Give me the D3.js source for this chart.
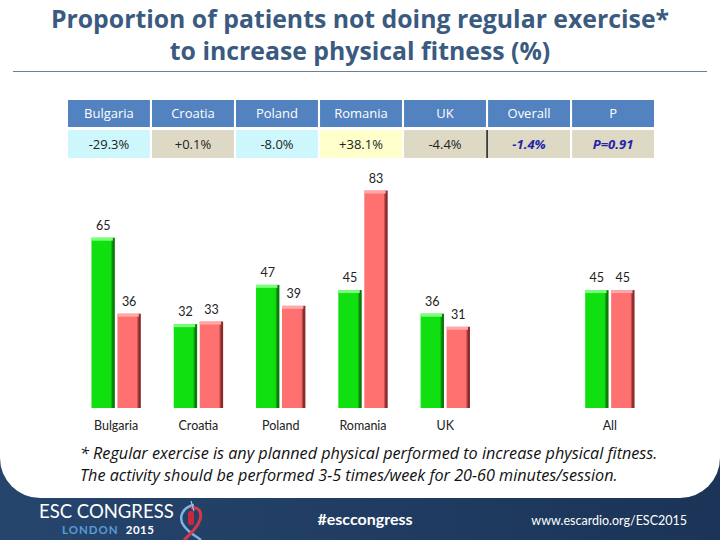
<!DOCTYPE html>
<html><head><meta charset="utf-8">
<script src="https://cdn.jsdelivr.net/npm/d3@7"></script>
<style>
html,body{margin:0;padding:0;background:#fff;}
svg{display:block;}
</style></head>
<body>
<script>
// ---- data ----
const categories = ["Bulgaria", "Croatia", "Poland", "Romania", "UK", "", "All"];
const greenValues = [65, 32, 47, 45, 36, null, 45];
const redValues   = [36, 33, 39, 83, 31, null, 45];
const tableHeaders = ["Bulgaria", "Croatia", "Poland", "Romania", "UK", "Overall", "P"];
const tableValues  = ["-29.3%", "+0.1%", "-8.0%", "+38.1%", "-4.4%", "-1.4%", "P=0.91"];
const tableFills   = ["#cdf7fc", "#ddd9c5", "#cdf7fc", "#ffffcc", "#ddd9c5", "#ddd9c5", "#ddd9c5"];
const titleLines = ["Proportion of patients not doing regular exercise*", "to increase physical fitness (%)"];
const footnoteLines = ["* Regular exercise is any planned physical performed to increase physical fitness.",
                       "The activity should be performed 3-5 times/week for 20-60 minutes/session."];

const W = 720, H = 540;
const font = "Lato, 'Open Sans', sans-serif";
const font2 = "'Open Sans', sans-serif";
const svg = d3.select("body").append("svg").attr("width", W).attr("height", H);
const defs = svg.append("defs");

// ---- background / footer ----
const navy = defs.append("linearGradient").attr("id","navy").attr("x1",0).attr("x2",1).attr("y1",0).attr("y2",0);
navy.append("stop").attr("offset","0%").attr("stop-color","#26456d");
navy.append("stop").attr("offset","100%").attr("stop-color","#1b3458");
svg.append("rect").attr("x",0).attr("y",0).attr("width",W).attr("height",H).attr("fill","url(#navy)");
svg.append("rect").attr("x",0).attr("y",-60).attr("width",W).attr("height",558).attr("rx",40).attr("fill","#fff");
svg.append("rect").attr("x",0).attr("y",0).attr("width",W).attr("height",440).attr("fill","#fff");

// ---- title ----
svg.append("g").selectAll("text").data(titleLines).join("text")
  .attr("x", 360).attr("y", (d,i)=> 28 + i*32)
  .attr("text-anchor","middle")
  .attr("font-family", font2).attr("font-weight","bold").attr("font-size", 24.8)
  .attr("fill","#3a5a80").text(d=>d);
svg.append("line").attr("x1",13).attr("x2",707).attr("y1",71.5).attr("y2",71.5)
  .attr("stroke","#6a7f9a").attr("stroke-width",1.2);

// ---- table ----
const tx = d3.scaleBand().domain(tableHeaders).range([68, 654]).paddingInner(0.025);
const tg = svg.append("g");
tg.selectAll("rect.h").data(tableHeaders).join("rect").attr("class","h")
  .attr("x", d=>tx(d)).attr("y",100).attr("width",tx.bandwidth()).attr("height",27).attr("fill","#5282bf");
tg.selectAll("text.h").data(tableHeaders).join("text").attr("class","h")
  .attr("x", d=>tx(d)+tx.bandwidth()/2).attr("y",118).attr("text-anchor","middle")
  .attr("font-family",font2).attr("font-size",13).attr("fill","#fff").text(d=>d);
tg.selectAll("rect.v").data(tableValues).join("rect").attr("class","v")
  .attr("x", (d,i)=>tx(tableHeaders[i])).attr("y",130).attr("width",tx.bandwidth()).attr("height",28)
  .attr("fill",(d,i)=>tableFills[i]);
tg.selectAll("text.v").data(tableValues).join("text").attr("class","v")
  .attr("x", (d,i)=>tx(tableHeaders[i])+tx.bandwidth()/2).attr("y",148.5).attr("text-anchor","middle")
  .attr("font-family",font2).attr("font-size",13)
  .attr("font-weight",(d,i)=> i>=5 ? "bold" : "normal")
  .attr("font-style",(d,i)=> i>=5 ? "italic" : "normal")
  .attr("fill",(d,i)=> i>=5 ? "#2424a8" : "#222").text(d=>d);
tg.append("line").attr("x1", tx("Overall")-1).attr("x2", tx("Overall")-1).attr("y1",130).attr("y2",158)
  .attr("stroke","#111").attr("stroke-width",1.5);

// ---- bar chart ----
const x = d3.scaleBand().domain(categories).range([75, 651]).paddingInner(0.4).paddingOuter(0.2);
const xs = d3.scaleBand().domain([0,1]).range([0, x.bandwidth()]).paddingInner(0.1);
const y = d3.scaleLinear().domain([0, 100]).range([408, 146]);

function grad(id, mid, dark) {
  const g = defs.append("linearGradient").attr("id", id).attr("x1",0).attr("x2",1).attr("y1",0).attr("y2",0);
  g.append("stop").attr("offset","0%").attr("stop-color",mid);
  g.append("stop").attr("offset","82%").attr("stop-color",mid);
  g.append("stop").attr("offset","92%").attr("stop-color",dark);
  g.append("stop").attr("offset","100%").attr("stop-color",dark);
}
grad("gG", "#10e010", "#0a7a0a");
grad("gR", "#ff7070", "#8a2a2a");

const series = [
  {values: greenValues, fill: "url(#gG)", top: "#7cff7c"},
  {values: redValues,   fill: "url(#gR)", top: "#ffa8a8"}
];
const bars = svg.append("g");
series.forEach((s, si) => {
  const pts = categories.map((c,i)=>({c, v: s.values[i]})).filter(d=>d.v!=null);
  const g = bars.append("g");
  g.selectAll("rect.b").data(pts).join("rect").attr("class","b")
    .attr("x", d=>x(d.c)+xs(si)).attr("y", d=>y(d.v))
    .attr("width", xs.bandwidth()).attr("height", d=>y(0)-y(d.v)).attr("fill", s.fill);
  g.selectAll("rect.t").data(pts).join("rect").attr("class","t")
    .attr("x", d=>x(d.c)+xs(si)).attr("y", d=>y(d.v))
    .attr("width", xs.bandwidth()-2).attr("height", 3).attr("fill", s.top);
  g.selectAll("text").data(pts).join("text")
    .attr("x", d=>x(d.c)+xs(si)+xs.bandwidth()/2).attr("y", d=>y(d.v)-8)
    .attr("text-anchor","middle").attr("font-family",font).attr("font-size",12.5).attr("fill","#222")
    .text(d=>d.v);
});
svg.append("g").selectAll("text").data(categories.filter(c=>c)).join("text")
  .attr("x", d=>x(d)+x.bandwidth()/2).attr("y", 430).attr("text-anchor","middle")
  .attr("font-family",font).attr("font-size",12.5).attr("fill","#222").text(d=>d);

// ---- footnote ----
svg.append("g").selectAll("text").data(footnoteLines).join("text")
  .attr("x", 80).attr("y", (d,i)=>459 + i*22)
  .attr("font-family",font2).attr("font-style","italic").attr("font-size",16.2).attr("fill","#111").text(d=>d);

// ---- footer ----
const f = svg.append("g");
f.append("text").attr("x",39).attr("y",518).attr("font-family",font).attr("font-size",18.5).attr("fill","#fff").text("ESC CONGRESS");
f.append("text").attr("x",62).attr("y",534).attr("font-family",font).attr("font-weight","bold").attr("font-size",11.5).attr("letter-spacing",1)
  .attr("fill","#5b9bd5").text("LONDON").append("tspan").attr("fill","#fff").attr("dx",7).attr("letter-spacing",0.5).text("2015");
// logo
f.append("path").attr("d","M194,505 C182,507 178,518 184,526 C189,533 196,536 201,540").attr("fill","none").attr("stroke","#7fb2dc").attr("stroke-width",2.5);
f.append("path").attr("d","M191,508 C201,506 203,516 198,524 C194,531 188,536 184,540").attr("fill","none").attr("stroke","#d8374a").attr("stroke-width",3);
f.append("rect").attr("x",188).attr("y",511).attr("width",6).attr("height",14).attr("rx",2).attr("fill","#c8283a");
f.append("line").attr("x1",191).attr("x2",194).attr("y1",501).attr("y2",511).attr("stroke","#9ec6e8").attr("stroke-width",1.2);
f.append("text").attr("x",365).attr("y",525).attr("text-anchor","middle").attr("font-family",font).attr("font-weight","bold").attr("font-size",16).attr("fill","#fff").text("#esccongress");
f.append("text").attr("x",687).attr("y",525).attr("text-anchor","end").attr("font-family",font).attr("font-size",12.5).attr("fill","#fff").text("www.escardio.org/ESC2015");
</script>
</body></html>
